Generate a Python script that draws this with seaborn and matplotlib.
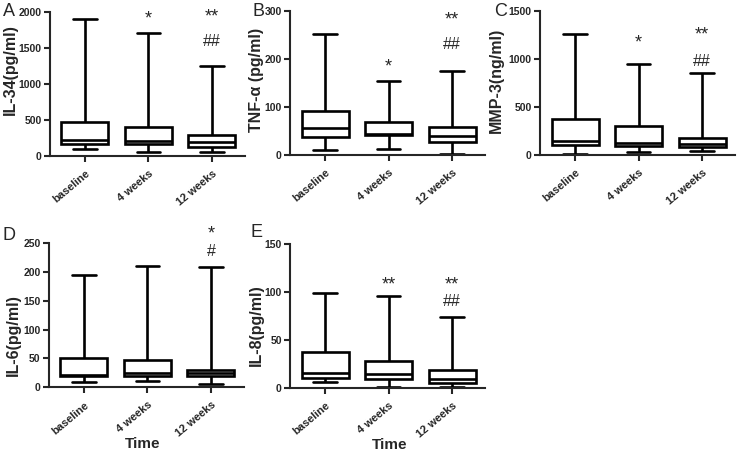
import pandas as pd
import matplotlib
matplotlib.use("Agg")
import matplotlib.pyplot as plt
import seaborn as sns

# Time points shown on every panel
times = ["baseline", "4 weeks", "12 weeks"]

# Five-number summaries: [min, q1, median, q3, max]
il34 = [[97, 167, 222, 472, 1900], [60, 167, 213, 407, 1700], [60, 130, 196, 292, 1245]]
tnfa = [[10, 37, 57, 91, 252], [12, 41, 45, 68, 155], [2, 28, 40, 58, 176]]
mmp3 = [[17, 101, 147, 374, 1256], [28, 94, 122, 304, 949], [39, 80, 115, 181, 858]]
il6 = [[9, 19, 22, 51, 194], [11, 20, 24, 47, 210], [5, 19, 25, 30, 208]]
il8 = [[6, 11, 16, 38, 99], [1.5, 9, 14.5, 28.5, 96], [1.5, 5.5, 9, 19, 74]]

panel_letters = ["A", "B", "C", "D", "E"]
y_labels = ["IL-34(pg/ml)", "TNF-\u03b1 (pg/ml)", "MMP-3(ng/ml)", "IL-6(pg/ml)", "IL-8(pg/ml)"]
y_ticks = [[0, 500, 1000, 1500, 2000], [0, 100, 200, 300], [0, 500, 1000, 1500],
           [0, 50, 100, 150, 200, 250], [0, 50, 100, 150]]
# significance marks: (time index, text, y in data units)
marks = [
    [(1, "*", 1958), (2, "**", 1986), (2, "##", 1583)],
    [(1, "*", 193), (2, "**", 289), (2, "##", 231)],
    [(1, "*", 1207), (2, "**", 1290), (2, "##", 976)],
    [(2, "*", 272), (2, "#", 236)],
    [(1, "**", 112), (2, "**", 112), (2, "##", 90)],
]
show_time = [False, False, False, True, True]

sns.set_style("ticks")
plt.rcParams["font.family"] = ["Liberation Sans", "DejaVu Sans"]

fig = plt.figure(figsize=(7.4, 4.55), dpi=100)

# axes rectangles (figure fractions)
lefts = [0.0676, 0.392, 0.73, 0.0662, 0.392]
bottoms = [0.657, 0.659, 0.659, 0.149, 0.147]
width = 0.2635
height = 0.317
# y label placement (axes fractions) and panel letter placement (pixels)
ylab_x = [-0.165, -0.135, -0.185, -0.145, -0.135]
ylab_y = [0.60, 0.52, 0.52, 0.36, 0.44]
time_x = [0.5, 0.5, 0.5, 0.48, 0.51]
letter_px = [(9, 11), (259, 11), (501, 11), (9, 235), (257, 233)]

all_data = [il34, tnfa, mmp3, il6, il8]

for i, summ in enumerate(all_data):
    rows = []
    for t, vals in zip(times, summ):
        for v in vals:
            rows.append({"Time": t, "value": v})
    df = pd.DataFrame(rows)

    ax = fig.add_axes([lefts[i], bottoms[i], width, height])
    sns.boxplot(data=df, x="Time", y="value", order=times, whis=(0, 100),
                color="white", linecolor="black", linewidth=1.9, width=0.74,
                showfliers=False, ax=ax)
    ax.set_xlim(-0.55, 2.52)
    ax.set_ylim(0, y_ticks[i][-1])
    ax.set_yticks(y_ticks[i])
    ax.set_ylabel(y_labels[i], fontsize=11.5, fontweight="bold")
    ax.yaxis.set_label_coords(ylab_x[i], ylab_y[i])
    if show_time[i]:
        ax.set_xlabel("Time", fontsize=11, fontweight="bold")
        ax.xaxis.set_label_coords(time_x[i], -0.345)
    else:
        ax.set_xlabel("")
    ax.set_xticks(range(len(times)))
    ax.set_xticklabels(times, rotation=40, ha="right", rotation_mode="anchor",
                       fontsize=8, fontweight="bold")
    ax.set_yticklabels([str(v) for v in y_ticks[i]], fontsize=7.5, fontweight="bold")
    for sp in ["left", "bottom"]:
        ax.spines[sp].set_linewidth(1.5)
    sns.despine(ax=ax)
    ax.tick_params(width=1.5, length=4, pad=2)
    ax.tick_params(axis="x", pad=5)

    for xi, txt, yv in marks[i]:
        star = "*" in txt
        ax.annotate(txt, (xi, yv), xytext=(0, -3 if star else 0), textcoords="offset points",
                    ha="center", va="center", fontsize=13 if star else 11.5,
                    annotation_clip=False)

    lx, ly = letter_px[i]
    fig.text(lx / 740, 1 - ly / 455, panel_letters[i], fontsize=13, va="center", ha="center")

fig.savefig("out.png", dpi=100)
